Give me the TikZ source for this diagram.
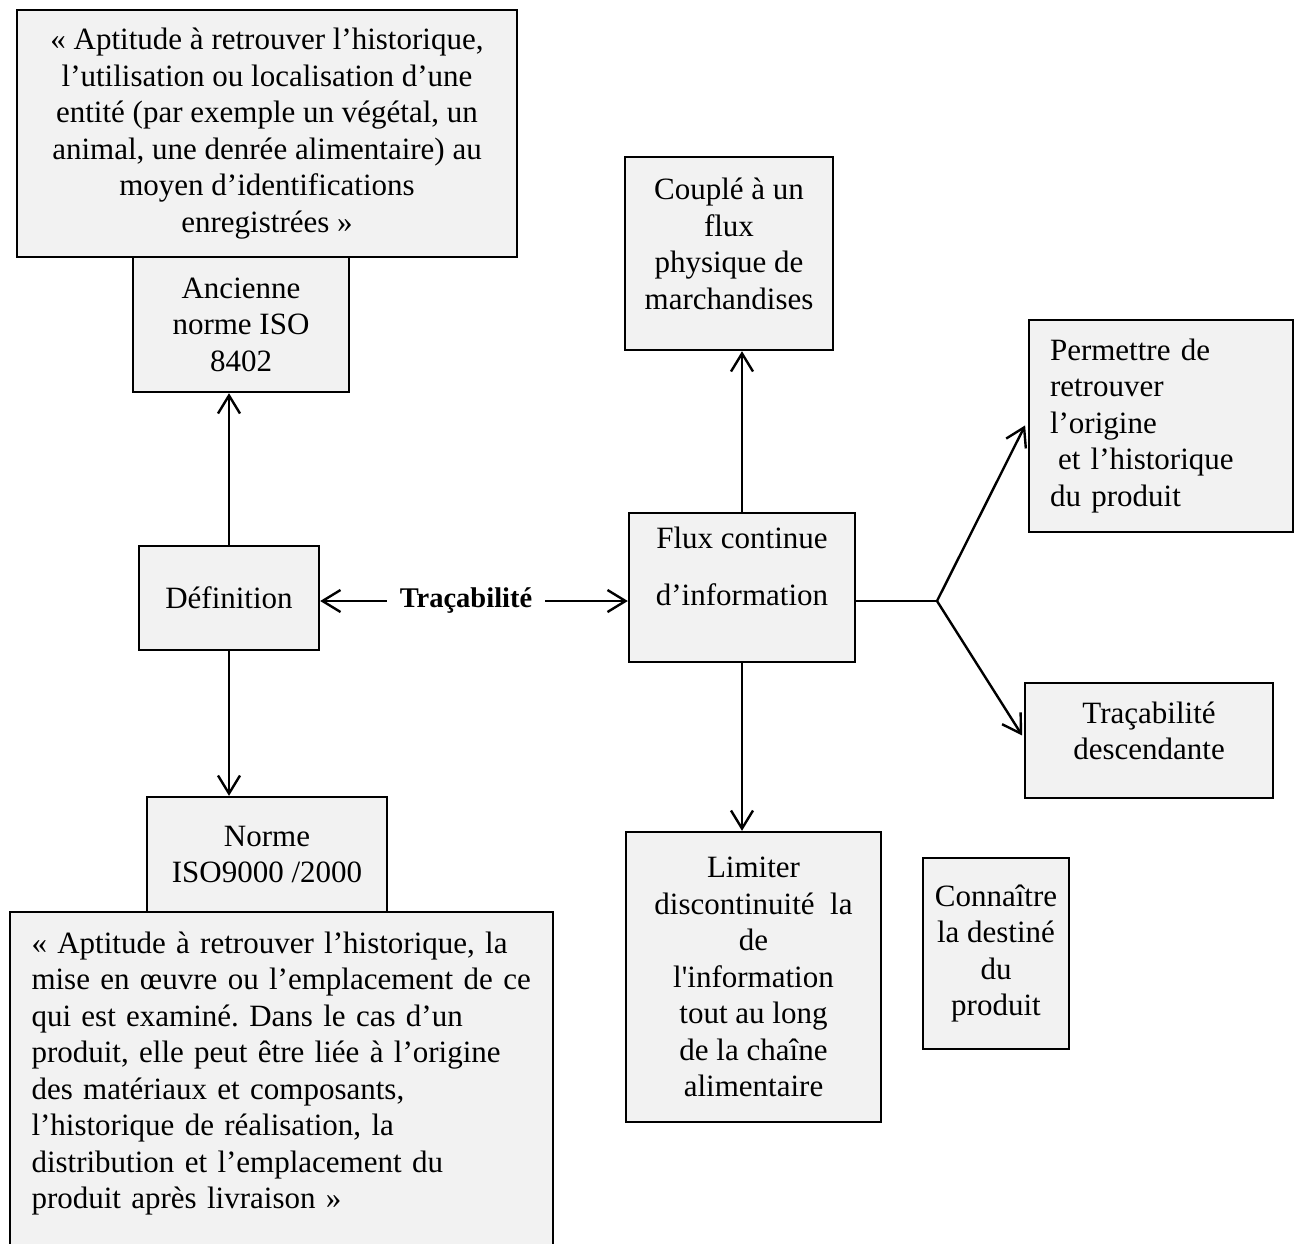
\documentclass[tikz,border=0pt]{standalone}
\usepackage{fontspec}
\setmainfont{Liberation Serif}
\usetikzlibrary{arrows.meta}
\definecolor{boxgray}{HTML}{F2F2F2}
\frenchspacing

\begin{document}
\begin{tikzpicture}[x=1pt,y=-1pt,>={Straight Barb[length=18pt,width=22pt]},line width=2.4pt,
  font=\fontsize{31}{36.5}\selectfont,
  box/.style={draw,fill=boxgray,align=center,inner sep=0pt}]
\useasboundingbox (0,0) rectangle (1298,1243);
\node[box,minimum width=500pt,minimum height=247pt] (oldquote) at (267,133.5) {« Aptitude à retrouver l’historique,\\ l’utilisation ou localisation d’une\\ entité (par exemple un végétal, un\\ animal, une denrée alimentaire) au\\ moyen d’identifications\\ enregistrées »};
\node[box,minimum width=216pt,minimum height=135pt] (ancienne) at (241,324.5) {Ancienne\\ norme ISO\\ 8402};
\node[box,minimum width=180pt,minimum height=104pt] (def) at (229,598) {Définition};
\node[box,minimum width=240pt,minimum height=115pt] (norme) at (267,854.5) {Norme\\ ISO9000 /2000};
\node[box,minimum width=543pt,minimum height=343pt,text width=500pt,align=left] (newquote) at (281.5,1083.5) {« Aptitude à retrouver l’historique, la\\ mise en œuvre ou l’emplacement de ce\\ qui est examiné. Dans le cas d’un\\ produit, elle peut être liée à l’origine\\ des matériaux et composants,\\ l’historique de réalisation, la\\ distribution et l’emplacement du\\ produit après livraison »\\[-10pt]\mbox{}};
\node[font=\fontsize{28.5}{34}\selectfont\bfseries,inner xsep=12pt] (trac) at (466,601) {Traçabilité};
\node[box,minimum width=208pt,minimum height=193pt] (couple) at (729,253.5) {Couplé à un\\ flux\\ physique de\\ marchandises\\[-17pt]\mbox{}};
\node[box,minimum width=226pt,minimum height=149pt] (flux) at (742,587.5) {Flux continue\\[20.5pt] d’information\\[6pt]\mbox{}};
\node[box,minimum width=255pt,minimum height=290pt] (limiter) at (753.5,977) {Limiter\\ discontinuité~~la\\ de\\ l\textquotesingle information\\ tout au long\\ de la chaîne\\ alimentaire};
\node[box,minimum width=264pt,minimum height=212pt,text width=222pt,align=left] (permettre) at (1161,426) {Permettre de\\ retrouver\\ l’origine\\ \hspace*{8pt}et l’historique\\ du produit};
\node[box,minimum width=248pt,minimum height=115pt] (desc) at (1149,740.5) {Traçabilité\\ descendante\\[-17pt]\mbox{}};
\node[box,minimum width=146pt,minimum height=191pt] (connaitre) at (996,953.5) {Connaître\\ la destiné\\ du\\ produit};
\coordinate (fork) at (937,601);
\draw[->] (def.north) -- (def.north |- ancienne.south);
\draw[->] (def.south) -- (def.south |- norme.north);
\draw[->] (trac.west) -- (trac.west -| def.east);
\draw[->] (trac.east) -- (trac.east -| flux.west);
\draw[->] (flux.north) -- (flux.north |- couple.south);
\draw[->] (flux.south) -- (flux.south |- limiter.north);
\draw (fork -| flux.east) -- (fork);
\draw[->,shorten >=6pt] (fork) -- (permettre.west |- 0,420);
\draw[->,shorten >=3pt] (fork) -- (desc.west |- 0,738);
\end{tikzpicture}
\end{document}
